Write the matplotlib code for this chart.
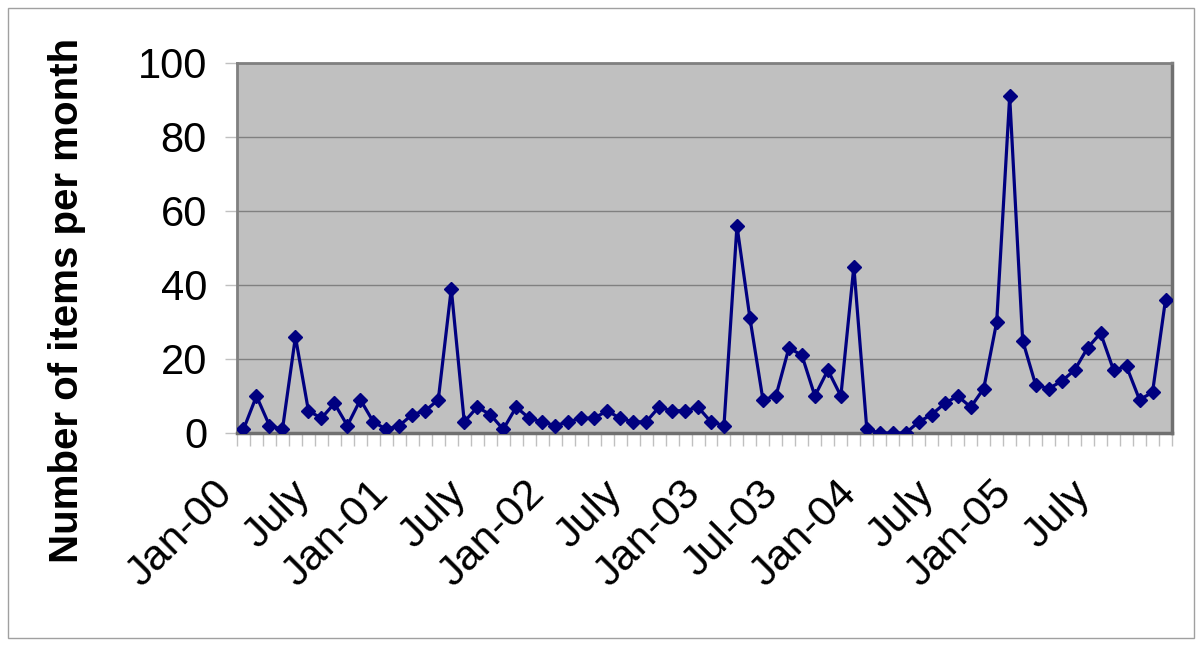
import matplotlib
matplotlib.use("Agg")
import matplotlib.pyplot as plt
from matplotlib.patches import Rectangle
from matplotlib.transforms import ScaledTranslation
import numpy as np

# monthly counts, Jan-00 .. Dec-05
items_2000 = [1, 10, 2, 1, 26, 6, 4, 8, 2, 9, 3, 1]
items_2001 = [2, 5, 6, 9, 39, 3, 7, 5, 1, 7, 4, 3]
items_2002 = [2, 3, 4, 4, 6, 4, 3, 3, 7, 6, 6, 7]
items_2003 = [3, 2, 56, 31, 9, 10, 23, 21, 10, 17, 10, 45]
items_2004 = [1, 0, 0, 0, 3, 5, 8, 10, 7, 12, 30, 91]
items_2005 = [25, 13, 12, 14, 17, 23, 27, 17, 18, 9, 11, 36]

tick_labels = ["Jan-00", "July", "Jan-01", "July", "Jan-02", "July",
               "Jan-03", "Jul-03", "Jan-04", "July", "Jan-05", "July"]
y_ticks = [0, 20, 40, 60, 80, 100]

values = items_2000 + items_2001 + items_2002 + items_2003 + items_2004 + items_2005
months = np.arange(len(values))

plt.rcParams["font.family"] = ["Liberation Sans", "DejaVu Sans"]

fig = plt.figure(figsize=(12, 6.48), dpi=100)
fig.patches.append(Rectangle((8 / 1200, 10 / 648), 1186 / 1200, 630 / 648,
                             transform=fig.transFigure, fill=False,
                             edgecolor="#a0a0a0", linewidth=1))

ax = fig.add_axes([237 / 1200, 1 - 433 / 648, 935 / 1200, 370 / 648])
ax.set_facecolor("#c0c0c0")

ax.plot(months, values, color="#000080", linewidth=2.3,
        marker="D", markersize=7.5, zorder=3)

ax.set_xlim(-0.5, len(values) - 0.5)
ax.set_ylim(0, 100)
ax.set_yticks(y_ticks)
ax.tick_params(axis="y", labelsize=30, length=8.6, width=1, color="#c0c0c0", pad=13)
ax.grid(axis="y", color="#808080", linewidth=1)
ax.set_axisbelow(True)

# month tick marks between categories, labels every six months
ax.set_xticks(np.arange(len(values) + 1) - 0.5, minor=True)
ax.set_xticks(months[::6])
ax.set_xticklabels(tick_labels, rotation=45, ha="right", va="top",
                   rotation_mode="anchor", fontsize=31)
ax.tick_params(axis="x", which="major", length=0, pad=29)
ax.tick_params(axis="x", which="minor", length=9.4, width=1, color="#c0c0c0")
shift = ScaledTranslation(-0.31, 0, fig.dpi_scale_trans)
for lab in ax.get_xticklabels():
    lab.set_transform(lab.get_transform() + shift)

for s in ax.spines.values():
    s.set_color("#808080")
    s.set_linewidth(2)
# darker edge on the right and bottom, like the plot-area shadow
ax.spines["right"].set_color("#707070")
ax.spines["bottom"].set_color("#707070")
ax.spines["right"].set_linewidth(2.5)
ax.spines["bottom"].set_linewidth(2.5)

ax.set_ylabel("Number of items per month", fontsize=29, fontweight="bold")
ax.yaxis.set_label_coords(-0.161, 0.357)

fig.savefig("out.png", dpi=100)
